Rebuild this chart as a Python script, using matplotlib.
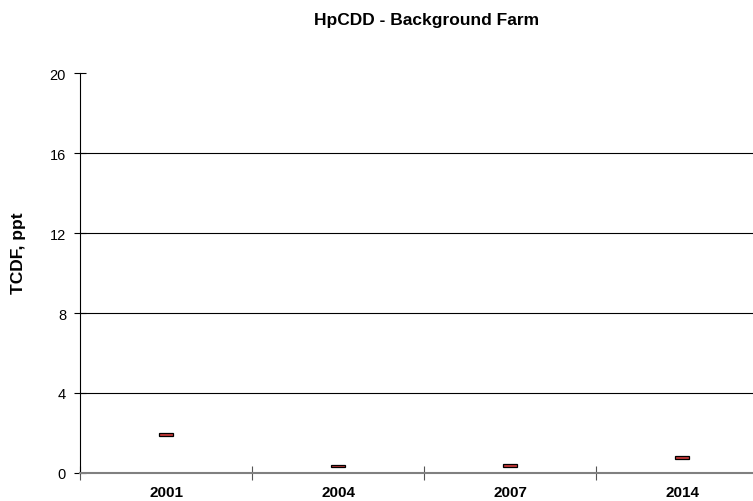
import matplotlib
matplotlib.use("Agg")
import matplotlib.pyplot as plt
from matplotlib.ticker import FixedLocator

plt.rcParams['font.family'] = ['Liberation Sans', 'DejaVu Sans']

years = ["2001", "2004", "2007", "2014"]
low = [1.85, 0.29, 0.32, 0.70]
high = [2.00, 0.42, 0.45, 0.87]
y_ticks = [0, 4, 8, 12, 16, 20]

fig = plt.figure(figsize=(7.53, 5.02), dpi=100)
W, H = 753, 502
left, right, bottom, top = 80, 768, 474, 74
ax = fig.add_axes([left / W, (H - bottom) / H, (right - left) / W, (bottom - top) / H])

x = list(range(len(years)))
heights = [h - l for h, l in zip(high, low)]
ax.bar(x, heights, bottom=low, width=0.08, color='#cc3b3b',
       edgecolor='black', linewidth=0.9, zorder=3)

ax.set_xlim(-0.5, len(years) - 0.5)
ax.set_ylim(0, 20)

for v in y_ticks[1:-1]:
    ax.axhline(v, color='black', linewidth=0.8, zorder=1)

ax.set_yticks(y_ticks)
ax.set_yticklabels([str(v) for v in y_ticks], fontsize=10.5)
ax.tick_params(axis='y', direction='inout', length=8, width=0.8, pad=6)

ax.xaxis.set_major_locator(FixedLocator([i - 0.5 for i in range(len(years) + 1)]))
ax.xaxis.set_minor_locator(FixedLocator(x))
ax.set_xticklabels([], minor=False)
ax.set_xticklabels(years, minor=True, fontsize=11, fontweight='bold')
ax.tick_params(axis='x', which='major', direction='inout', length=10, width=0.8, color='#555555')
ax.tick_params(axis='x', which='minor', length=0, pad=9)

for s in ['top', 'right']:
    ax.spines[s].set_visible(False)
ax.spines['left'].set_linewidth(0.8)
ax.spines['bottom'].set_color('#808080')
ax.spines['bottom'].set_linewidth(1.5)

fig.text(19 / W, 1 - 253 / H, "TCDF, ppt", rotation=90, ha='center', va='center',
         fontsize=12.5, fontweight='bold')
fig.text(427 / W, 1 - 20 / H, "HpCDD - Background Farm", ha='center', va='center',
         fontsize=12.5, fontweight='bold')

fig.savefig("out.png", dpi=100)
